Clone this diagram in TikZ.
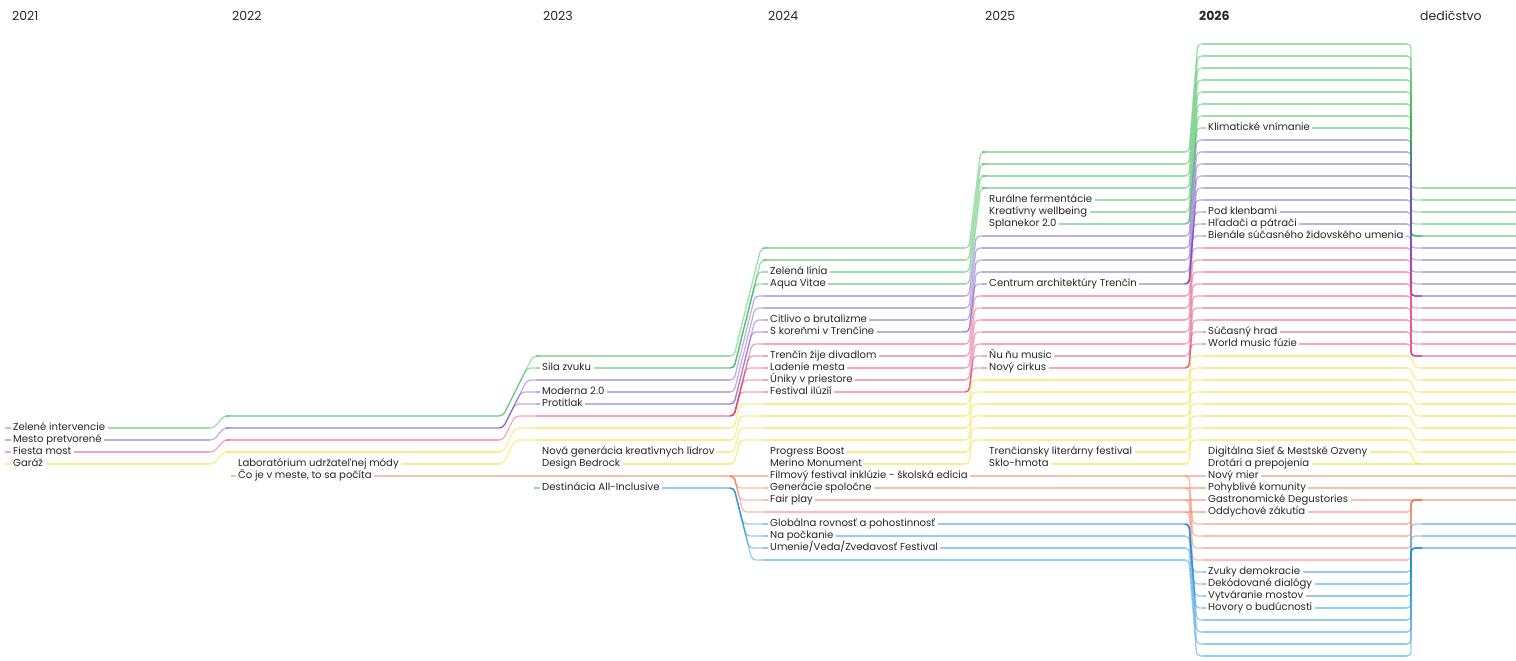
\documentclass[tikz,border=0pt]{standalone}
\usepackage{fontspec}
\setmainfont{Poppins}
\definecolor{ink}{RGB}{40,40,40}
\definecolor{cgrn}{RGB}{40,180,70}
\definecolor{cprp}{RGB}{115,75,200}
\definecolor{cpnk}{RGB}{232,55,110}
\definecolor{cylw}{RGB}{245,215,0}
\definecolor{corg}{RGB}{242,110,70}
\definecolor{cblu}{RGB}{25,140,220}
% row number -> y in px
\newcommand\ry[1]{44+12*(#1)}
% straight run: style, x from, x to, row
\newcommand\hseg[4]{\pgfmathsetmacro\ya{\ry{#4}}\draw[#1] (#2,\ya) -- (#3,\ya);}
% change of row: style, x start, slant, x end, row from, row to
\newcommand\jog[6]{%
  \pgfmathsetmacro\ya{\ry{#5}}%
  \pgfmathsetmacro\yb{\ry{#6}}%
  \ifnum#5=#6\relax
    \draw[#1] (#2-4,\ya) -- (#4,\yb);%
  \else
    \pgfmathsetmacro\xm{#2+#3*abs(\yb-\ya)}%
    \draw[#1, rounded corners=4pt] (#2-4,\ya) -- (#2,\ya) -- (\xm,\yb) -- (#4,\yb);%
  \fi}
\tikzset{
  track/.style={line width=1.3pt, draw opacity=0.45},
  grn/.style={track, draw=cgrn},
  prp/.style={track, draw=cprp},
  pnk/.style={track, draw=cpnk},
  ylw/.style={track, draw=cylw},
  org/.style={track, draw=corg},
  blu/.style={track, draw=cblu},
  tag/.style={anchor=west, fill=white, inner xsep=2.5pt, inner ysep=0.5pt,
    text height=7pt, text depth=2pt, text=ink, font=\fontsize{10.1}{12}\selectfont},
  yr/.style={anchor=west, inner sep=0pt, text=ink, font=\fontsize{12.5}{14}\selectfont},
}
\begin{document}
\begin{tikzpicture}[x=1pt, y=-1pt]
  \useasboundingbox (0,0) rectangle (1516,661);

  % years
  \node[yr] (y2021) at (12,16) {2021};
  \node[yr] (y2022) at (232,16) {2022};
  \node[yr] (y2023) at (543,16) {2023};
  \node[yr] (y2024) at (768,16) {2024};
  \node[yr] (y2025) at (985,16) {2025};
  \node[yr, font=\fontsize{12.5}{14}\selectfont\bfseries] (y2026) at (1199,16) {2026};
  \node[yr] (legacy) at (1420,16) {dedičstvo};

  % 2021
  \hseg{grn}{5}{210}{32}
  \hseg{prp}{5}{210}{33}
  \hseg{pnk}{5}{210}{34}
  \hseg{ylw}{5}{210}{35}

  % 2021 -> 2022
  \jog{grn}{214}{0.8}{226}{32}{31}
  \jog{prp}{214}{0.8}{226}{33}{32}
  \jog{pnk}{214}{0.8}{226}{34}{33}
  \jog{ylw}{214}{0.8}{226}{35}{34}

  % 2022
  \hseg{grn}{226}{499}{31}
  \hseg{prp}{226}{499}{32}
  \hseg{pnk}{226}{499}{33}
  \hseg{ylw}{226}{499}{34}
  \hseg{ylw}{238}{499}{35}
  \hseg{org}{231}{499}{36}

  % 2022 -> 2023
  \foreach \a/\b in {31/26, 31/27} {\jog{grn}{503}{0.5}{536}{\a}{\b}}
  \foreach \a/\b in {32/28, 32/29, 32/30} {\jog{prp}{503}{0.5}{536}{\a}{\b}}
  \jog{pnk}{503}{0.5}{536}{33}{31}
  \foreach \a/\b in {34/32, 35/33} {\jog{ylw}{503}{0.5}{536}{\a}{\b}}
  \jog{org}{503}{0.5}{536}{36}{36}

  % 2023
  \foreach \r in {26,27} {\hseg{grn}{536}{730}{\r}}
  \foreach \r in {28,29,30} {\hseg{prp}{536}{730}{\r}}
  \hseg{pnk}{536}{730}{31}
  \foreach \r in {32,33} {\hseg{ylw}{536}{730}{\r}}
  \foreach \r in {34,35} {\hseg{ylw}{542}{730}{\r}}
  \hseg{org}{536}{730}{36}
  \hseg{blu}{534}{730}{37}

  % 2023 -> 2024
  \foreach \a/\b in {26/17, 27/18, 27/19, 27/20} {\jog{grn}{734}{0.25}{763}{\a}{\b}}
  \foreach \a/\b in {28/21, 29/22, 30/23, 30/24} {\jog{prp}{734}{0.25}{763}{\a}{\b}}
  \foreach \b in {25,...,29} {\jog{pnk}{734}{0.25}{763}{31}{\b}}
  \foreach \a/\b in {32/30, 33/31, 34/32, 35/33} {\jog{ylw}{734}{0.25}{763}{\a}{\b}}
  \foreach \b in {36,...,39} {\jog{org}{734}{0.25}{763}{36}{\b}}
  \foreach \b in {40,...,43} {\jog{blu}{734}{0.25}{763}{37}{\b}}

  % 2024
  \foreach \r in {17,...,20} {\hseg{grn}{763}{965}{\r}}
  \foreach \r in {21,...,24} {\hseg{prp}{763}{965}{\r}}
  \foreach \r in {25,...,29} {\hseg{pnk}{763}{965}{\r}}
  \foreach \r in {30,...,33} {\hseg{ylw}{763}{965}{\r}}
  \foreach \r in {34,35} {\hseg{ylw}{770}{965}{\r}}
  \foreach \r in {36,...,39} {\hseg{org}{763}{965}{\r}}
  \foreach \r in {40,...,43} {\hseg{blu}{763}{965}{\r}}

  % 2024 -> 2025
  \foreach \a/\b in {17/9, 18/10, 19/11, 20/12} {\jog{grn}{969}{0.12}{982}{\a}{\b}}
  \foreach \a/\b in {21/16, 22/17, 23/18, 24/19, 24/20} {\jog{prp}{969}{0.12}{982}{\a}{\b}}
  \foreach \a/\b in {25/21, 26/22, 27/23, 28/24, 29/25, 29/26, 29/27} {\jog{pnk}{969}{0.12}{982}{\a}{\b}}
  \foreach \a/\b in {30/28, 31/29, 32/30, 33/31, 34/32, 35/33} {\jog{ylw}{969}{0.12}{982}{\a}{\b}}
  \foreach \r in {36,...,39} {\jog{org}{969}{0.12}{982}{\r}{\r}}
  \foreach \r in {40,...,43} {\jog{blu}{969}{0.12}{982}{\r}{\r}}

  % 2025
  \foreach \r in {9,...,12} {\hseg{grn}{982}{1185}{\r}}
  \foreach \r in {13,14,15} {\hseg{grn}{989}{1185}{\r}}
  \foreach \r in {16,...,20} {\hseg{prp}{982}{1185}{\r}}
  \foreach \r in {21,...,27} {\hseg{pnk}{982}{1185}{\r}}
  \foreach \r in {28,...,33} {\hseg{ylw}{982}{1185}{\r}}
  \foreach \r in {34,35} {\hseg{ylw}{989}{1185}{\r}}
  \foreach \r in {36,...,39} {\hseg{org}{982}{1185}{\r}}
  \foreach \r in {40,...,43} {\hseg{blu}{982}{1185}{\r}}

  % 2025 -> 2026
  \foreach \a/\b in {9/0, 10/1, 11/2, 12/3, 13/4, 14/5, 15/6, 15/7} {\jog{grn}{1189}{0.08}{1203}{\a}{\b}}
  \foreach \a/\b in {16/8, 17/9, 18/10, 19/11, 20/12, 20/13, 20/14, 20/15, 20/16} {\jog{prp}{1189}{0.08}{1203}{\a}{\b}}
  \foreach \a/\b in {21/17, 22/18, 23/19, 24/20, 25/21, 26/22, 27/23, 27/24, 27/25} {\jog{pnk}{1189}{0.08}{1203}{\a}{\b}}
  \foreach \a/\b in {28/26, 29/27, 30/28, 31/29, 32/30, 33/31, 34/32, 35/33} {\jog{ylw}{1189}{0.08}{1203}{\a}{\b}}
  \foreach \a/\b in {36/36, 37/37, 38/38, 39/39, 36/40, 37/41, 38/42, 39/43} {\jog{org}{1189}{0.08}{1203}{\a}{\b}}
  \foreach \a/\b in {40/44, 40/45, 40/46, 40/47, 40/48, 41/49, 42/50, 43/51} {\jog{blu}{1189}{0.08}{1203}{\a}{\b}}

  % 2026
  \foreach \r in {0,...,7} {\hseg{grn}{1203}{1407}{\r}}
  \foreach \r in {8,...,16} {\hseg{prp}{1203}{1407}{\r}}
  \foreach \r in {17,...,25} {\hseg{pnk}{1203}{1407}{\r}}
  \foreach \r in {26,...,33} {\hseg{ylw}{1203}{1407}{\r}}
  \foreach \r in {34,35} {\hseg{ylw}{1208}{1407}{\r}}
  \foreach \r in {36,...,43} {\hseg{org}{1203}{1407}{\r}}
  \foreach \r in {44,...,51} {\hseg{blu}{1203}{1407}{\r}}

  % 2026 -> dedicstvo
  \foreach \a/\b in {0/12, 1/13, 2/14, 3/15, 4/16, 5/16, 6/16, 7/16} {\jog{grn}{1411}{0}{1422}{\a}{\b}}
  \foreach \a/\b in {8/17, 9/18, 10/19, 11/20, 12/21, 13/21, 14/21, 15/21, 16/21} {\jog{prp}{1411}{0}{1422}{\a}{\b}}
  \foreach \a/\b in {17/22, 18/23, 19/24, 20/25, 21/26, 22/26, 23/26, 24/26, 25/26} {\jog{pnk}{1411}{0}{1422}{\a}{\b}}
  \foreach \a/\b in {26/27, 27/28, 28/29, 29/30, 30/31, 31/32, 32/33, 33/34, 34/35, 35/35} {\jog{ylw}{1411}{0.3}{1422}{\a}{\b}}
  \foreach \a/\b in {36/36, 37/37, 38/38, 39/38, 40/38, 41/38, 42/38, 43/38} {\jog{org}{1411}{0}{1422}{\a}{\b}}
  \foreach \a/\b in {44/40, 45/41, 46/42, 47/42, 48/42, 49/42, 50/42, 51/42} {\jog{blu}{1411}{0}{1422}{\a}{\b}}

  % dedicstvo
  \foreach \r in {12,...,16} {\hseg{grn}{1422}{1516}{\r}}
  \foreach \r in {17,...,21} {\hseg{prp}{1422}{1516}{\r}}
  \foreach \r in {22,...,26} {\hseg{pnk}{1422}{1516}{\r}}
  \foreach \r in {27,...,35} {\hseg{ylw}{1422}{1516}{\r}}
  \foreach \r in {36,37,38} {\hseg{org}{1422}{1516}{\r}}
  \foreach \r in {40,41,42} {\hseg{blu}{1422}{1516}{\r}}

  % labels 2021
  \node[tag] (zelint) at (10.5,{\ry{32}}) {Zelené intervencie};
  \node[tag] (mespre) at (10.5,{\ry{33}}) {Mesto pretvorené};
  \node[tag] (fiemos) at (10.5,{\ry{34}}) {Fiesta most};
  \node[tag] (garaz) at (10.5,{\ry{35}}) {Garáž};
  % labels 2022
  \node[tag] (labmod) at (235.5,{\ry{35}}) {Laboratórium udržateľnej módy};
  \node[tag] (cojemesto) at (235.5,{\ry{36}}) {Čo je v meste, to sa počíta};
  % labels 2023
  \node[tag] (silzvu) at (539.5,{\ry{27}}) {Sila zvuku};
  \node[tag] (moder) at (539.5,{\ry{29}}) {Moderna 2.0};
  \node[tag] (protit) at (539.5,{\ry{30}}) {Protitlak};
  \node[tag] (novgen) at (539.5,{\ry{34}}) {Nová generácia kreatívnych lídrov};
  \node[tag] (desbed) at (539.5,{\ry{35}}) {Design Bedrock};
  \node[tag] (destin) at (539.5,{\ry{37}}) {Destinácia All-Inclusive};
  % labels 2024
  \node[tag] (zellin) at (767.5,{\ry{19}}) {Zelená línia};
  \node[tag] (aquavit) at (767.5,{\ry{20}}) {Aqua Vitae};
  \node[tag] (citliv) at (767.5,{\ry{23}}) {Citlivo o brutalizme};
  \node[tag] (koren) at (767.5,{\ry{24}}) {S koreňmi v Trenčíne};
  \node[tag] (divadl) at (767.5,{\ry{26}}) {Trenčín žije divadlom};
  \node[tag] (ladeni) at (767.5,{\ry{27}}) {Ladenie mesta};
  \node[tag] (uniky) at (767.5,{\ry{28}}) {Úniky v priestore};
  \node[tag] (festil) at (767.5,{\ry{29}}) {Festival ilúzií};
  \node[tag] (progr) at (767.5,{\ry{34}}) {Progress Boost};
  \node[tag] (merino) at (767.5,{\ry{35}}) {Merino Monument};
  \node[tag] (filmfest) at (767.5,{\ry{36}}) {Filmový festival inklúzie - školská edícia};
  \node[tag] (generac) at (767.5,{\ry{37}}) {Generácie spoločne};
  \node[tag] (fairpl) at (767.5,{\ry{38}}) {Fair play};
  \node[tag] (global) at (767.5,{\ry{40}}) {Globálna rovnosť a pohostinnosť};
  \node[tag] (napock) at (767.5,{\ry{41}}) {Na počkanie};
  \node[tag] (umenie) at (767.5,{\ry{42}}) {Umenie/Veda/Zvedavosť Festival};
  % labels 2025
  \node[tag] (rural) at (986.5,{\ry{13}}) {Rurálne fermentácie};
  \node[tag] (kreat) at (986.5,{\ry{14}}) {Kreatívny wellbeing};
  \node[tag] (splan) at (986.5,{\ry{15}}) {Splanekor 2.0};
  \node[tag] (centrum) at (986.5,{\ry{20}}) {Centrum architektúry Trenčín};
  \node[tag] (nunu) at (986.5,{\ry{26}}) {Ňu ňu music};
  \node[tag] (novcir) at (986.5,{\ry{27}}) {Nový cirkus};
  \node[tag] (litfest) at (986.5,{\ry{34}}) {Trenčiansky literárny festival};
  \node[tag] (sklo) at (986.5,{\ry{35}}) {Sklo-hmota};
  % labels 2026
  \node[tag] (klimat) at (1205.5,{\ry{7}}) {Klimatické vnímanie};
  \node[tag] (klenby) at (1205.5,{\ry{14}}) {Pod klenbami};
  \node[tag] (hladaci) at (1205.5,{\ry{15}}) {Hľadači a pátrači};
  \node[tag] (bienale) at (1205.5,{\ry{16}}) {Bienále súčasného židovského umenia};
  \node[tag] (hrad) at (1205.5,{\ry{24}}) {Súčasný hrad};
  \node[tag] (worldm) at (1205.5,{\ry{25}}) {World music fúzie};
  \node[tag] (digsiet) at (1205.5,{\ry{34}}) {Digitálna Sieť \& Mestské Ozveny};
  \node[tag] (drotari) at (1205.5,{\ry{35}}) {Drotári a prepojenia};
  \node[tag] (novmier) at (1205.5,{\ry{36}}) {Nový mier};
  \node[tag] (pohyb) at (1205.5,{\ry{37}}) {Pohyblivé komunity};
  \node[tag] (gastro) at (1205.5,{\ry{38}}) {Gastronomické Degustories};
  \node[tag] (oddych) at (1205.5,{\ry{39}}) {Oddychové zákutia};
  \node[tag] (zvuky) at (1205.5,{\ry{44}}) {Zvuky demokracie};
  \node[tag] (dekod) at (1205.5,{\ry{45}}) {Dekódované dialógy};
  \node[tag] (vytvar) at (1205.5,{\ry{46}}) {Vytváranie mostov};
  \node[tag] (hovory) at (1205.5,{\ry{47}}) {Hovory o budúcnosti};
\end{tikzpicture}
\end{document}
